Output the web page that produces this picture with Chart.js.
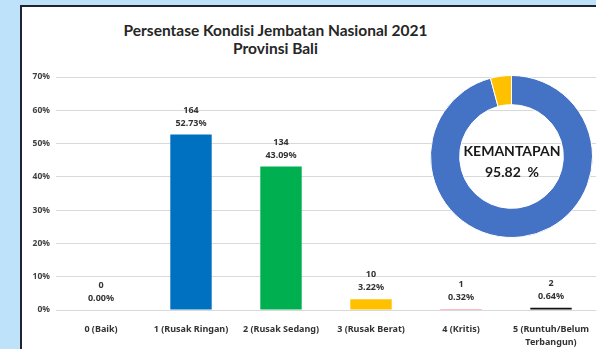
<!DOCTYPE html>
<html>
<head>
<meta charset="utf-8">
<script src="https://cdn.jsdelivr.net/npm/chart.js@4.4.0/dist/chart.umd.min.js"></script>
<style>
  html, body { margin: 0; padding: 0; }
  body { width: 596px; height: 349px; background: #bde2f9; position: relative; overflow: hidden; font-family: Lato, 'Open Sans', sans-serif; }
  #panel { position: absolute; left: 20px; top: 5px; width: 620px; height: 380px; background: #fff; border-left: 2px solid #1b2630; border-top: 2px solid #1b2630; }
  #title { position: absolute; left: 0; top: 21px; width: 551px; text-align: center; font-weight: bold; font-size: 15.5px; line-height: 18px; color: #262626; }
  #barChart { position: absolute; left: 0; top: 0; }
  #donut { position: absolute; left: 430px; top: 75px; }
  #center { position: absolute; left: 451px; top: 140px; width: 122px; text-align: center; font-weight: bold; font-size: 14px; line-height: 21px; color: #1a1a1a; }
</style>
</head>
<body>
<div id="panel"></div>
<div id="title">Persentase Kondisi Jembatan Nasional 2021<br>Provinsi Bali</div>
<canvas id="barChart" width="596" height="349"></canvas>
<canvas id="donut" width="163" height="163"></canvas>
<div id="center">KEMANTAPAN<br>95.82&nbsp; %</div>
<script>
const categories = ['0 (Baik)', '1 (Rusak Ringan)', '2 (Rusak Sedang)', '3 (Rusak Berat)', '4 (Kritis)', ['5 (Runtuh/Belum', 'Terbangun)']];
const counts = [0, 164, 134, 10, 1, 2];
const percents = [0, 52.73, 43.09, 3.22, 0.32, 0.64];
const barColors = ['#5b9bd5', '#0070c0', '#00b050', '#ffc000', '#ff7c80', '#111111'];

const donutLabels = ['Mantap', 'Tidak Mantap'];
const donutValues = [95.82, 4.18];
const donutColors = ['#4472c4', '#ffc000'];

const labelFont = "'Noto Sans', Lato, sans-serif";

const barLabels = {
  id: 'barLabels',
  afterDatasetsDraw(chart) {
    const ctx = chart.ctx;
    const meta = chart.getDatasetMeta(0);
    ctx.save();
    ctx.font = 'bold 9px ' + labelFont;
    ctx.fillStyle = '#333333';
    ctx.textAlign = 'center';
    ctx.textBaseline = 'middle';
    meta.data.forEach((bar, i) => {
      ctx.fillText(String(counts[i]), bar.x, bar.y - 24.5);
      ctx.fillText(percents[i].toFixed(2) + '%', bar.x, bar.y - 11.5);
    });
    ctx.restore();
  }
};

new Chart(document.getElementById('barChart'), {
  type: 'bar',
  data: {
    labels: categories,
    datasets: [{
      data: percents,
      backgroundColor: barColors,
      barPercentage: 1,
      categoryPercentage: 0.46
    }]
  },
  options: {
    responsive: false,
    animation: false,
    layout: { padding: { left: 22, top: 77, right: 0, bottom: 0 } },
    plugins: { legend: { display: false }, tooltip: { enabled: false } },
    scales: {
      x: {
        grid: { display: false },
        border: { display: false },
        ticks: { color: '#333333', font: { family: labelFont, size: 9, weight: 'bold', lineHeight: 1.45 }, padding: 5, maxRotation: 0, autoSkip: false },
        afterFit(scale) { scale.height = 39; }
      },
      y: {
        min: 0,
        max: 70,
        grid: { color: '#d9d9d9', drawTicks: false },
        border: { display: false },
        ticks: { stepSize: 10, padding: 6, color: '#404040', font: { family: labelFont, size: 8.5, weight: 'bold' }, callback: v => v + '%' },
        afterFit(scale) { scale.width = 34; }
      }
    }
  },
  plugins: [barLabels]
});

new Chart(document.getElementById('donut'), {
  type: 'doughnut',
  data: {
    labels: donutLabels,
    datasets: [{
      data: donutValues,
      backgroundColor: donutColors,
      borderColor: '#ffffff',
      borderWidth: 1
    }]
  },
  options: {
    responsive: false,
    animation: false,
    cutout: '64%',
    plugins: { legend: { display: false }, tooltip: { enabled: false } }
  }
});
</script>
</body>
</html>
